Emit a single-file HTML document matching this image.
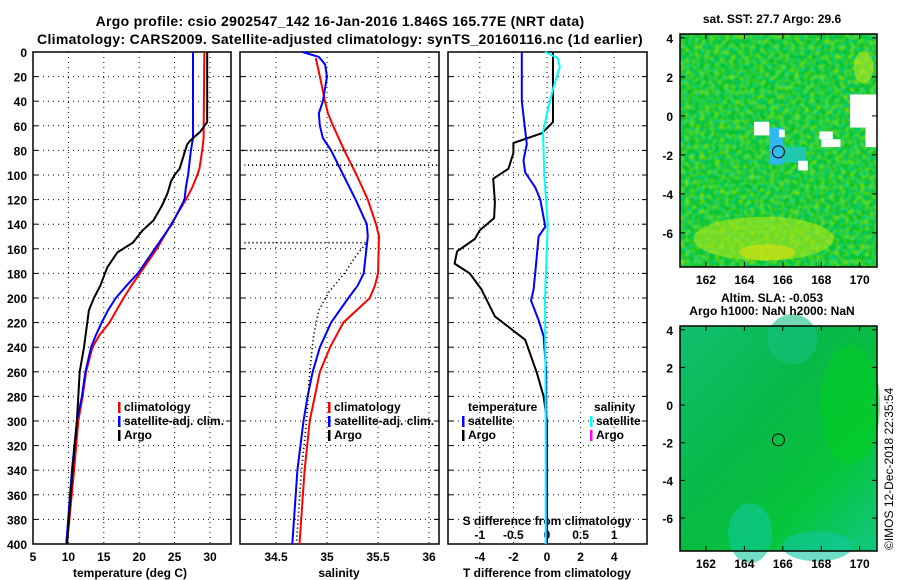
<!DOCTYPE html>
<html><head><meta charset="utf-8"><style>
html,body{margin:0;padding:0;background:#fff;}
svg{display:block;font-family:"Liberation Sans",Arial,sans-serif;font-weight:bold;}
</style></head><body>
<svg id="c" width="900" height="580" viewBox="0 0 900 580">
<defs>
<linearGradient id="sla" x1="0" y1="0" x2="1" y2="1">
<stop offset="0" stop-color="#10c070"/><stop offset="0.4" stop-color="#08b848"/><stop offset="0.7" stop-color="#06c43a"/><stop offset="1" stop-color="#10c880"/>
</linearGradient>
<filter id="noise" x="0" y="0" width="1" height="1">
<feTurbulence type="fractalNoise" baseFrequency="0.2" numOctaves="1" seed="3" result="t"/>
<feColorMatrix in="t" type="matrix" values="0 0 0 0 0.45  0 0 0 0 0.85  0 0 0 0 0  0 0 0 1.6 -0.6" result="n"/>
<feComposite in="n" in2="SourceGraphic" operator="in"/>
</filter>
<filter id="noise2" x="0" y="0" width="1" height="1">
<feTurbulence type="fractalNoise" baseFrequency="0.25" numOctaves="1" seed="11" result="t"/>
<feColorMatrix in="t" type="matrix" values="0 0 0 0 0  0 0 0 0 0.65  0 0 0 0 0.4  0 0 0 1.6 -0.6" result="n"/>
<feComposite in="n" in2="SourceGraphic" operator="in"/>
</filter>
</defs>
<text x="340" y="26" font-size="14" letter-spacing="0.3" text-anchor="middle">Argo profile: csio 2902547_142 16-Jan-2016 1.846S 165.77E (NRT data)</text>
<text x="340" y="44" font-size="14" letter-spacing="0.3" text-anchor="middle">Climatology: CARS2009. Satellite-adjusted climatology: synTS_20160116.nc (1d earlier)</text>
<g id="g"></g>
<text transform="translate(893,550) rotate(-90)" font-size="12" font-weight="normal">©IMOS 12-Dec-2018 22:35:54</text>
</svg>
<script>
// depth axis data
const depthTicks=[0,20,40,60,80,100,120,140,160,180,200,220,240,260,280,300,320,340,360,380,400];
// temperature panel
const tempTicks=[5,10,15,20,25,30];
const argoTDepth=[0,57,65,72,75,80,95,100,105,115,125,137,145,155,163,175,190,200,210,240,260,280,300,340,370,400];
const argoT=[29.6,29.6,28.6,27.2,26.8,26.5,25.7,25.0,24.5,24.0,23.2,22.0,20.5,19.1,16.9,15.5,14.5,13.6,12.9,12.2,11.6,11.4,11.2,10.6,10.2,9.8];
const climDepth=[0,70,80,95,100,110,120,140,160,180,190,200,210,220,230,240,260,280,300,340,400];
const climT=[29.2,29.1,28.9,28.5,28.2,27.5,26.6,24.5,22.5,20.1,18.9,17.8,16.8,15.8,14.4,13.4,12.5,12.0,11.4,10.8,9.8];
const satT=[27.6,27.6,27.3,27.0,26.9,26.6,26.4,24.6,22.2,19.8,18.2,16.7,15.6,14.7,13.9,13.2,12.4,11.9,11.2,10.5,9.7];
// salinity panel
const salTicks=[34.5,35,35.5,36];
const climSDepth=[5,20,40,50,60,80,100,120,140,150,180,190,200,220,240,260,280,300,340,400];
const climS=[34.89,34.93,34.98,35.01,35.06,35.17,35.29,35.40,35.48,35.51,35.50,35.47,35.42,35.16,35.03,34.93,34.88,34.83,34.78,34.73];
const satSDepth=[0,4,10,20,40,50,60,70,80,100,120,140,150,180,190,200,220,240,260,280,300,340,400];
const satS=[34.76,34.92,34.98,35.00,34.96,34.92,34.93,34.96,35.04,35.16,35.28,35.39,35.40,35.36,35.30,35.21,35.04,34.93,34.86,34.81,34.77,34.71,34.66];
// Argo salinity: null separates disconnected segments
const argoSDepth=[80,80,null,92,92,null,155,155,165,180,195,210,230,260,300,340,400];
const argoS=[34.17,36.08,null,36.08,34.19,null,34.19,35.39,35.29,35.17,35.02,34.92,34.87,34.83,34.80,34.75,34.70];
// difference panel
const dTTicks=[-4,-2,0,2,4];
const dSTicks=[-1,-0.5,0,0.5,1];
const dSTickLabels=["-1","-0.5","0","0.5","1"];
const argoDTDepth=[0,45,57,66,74,82,95,103,122,135,145,152,162,172,180,193,215,234,261,280,300,400];
const argoDT=[0.36,0.36,0.36,-0.3,-2.0,-2.0,-2.3,-3.2,-3.1,-3.15,-4.0,-4.3,-5.35,-5.5,-4.6,-3.9,-3.1,-1.3,-0.6,-0.2,0,0];
const satDTDepth=[0,40,75,88,98,110,120,142,150,165,180,193,202,218,231,260,400];
const satDT=[-1.5,-1.5,-1.2,-1.4,-1.3,-0.7,-0.4,-0.1,-0.5,-0.6,-0.7,-0.8,-0.95,-0.5,-0.2,-0.05,-0.05];
const satDSDepth=[0,5,12,30,50,65,100,140,200,300,400];
const satDS=[-0.03,0.16,0.19,0.09,0.0,-0.06,-0.04,0.01,-0.03,-0.02,-0.02];
// maps
const lonTicks=[162,164,166,168,170];
const latTicks=[4,2,0,-2,-4,-6];
const argoLon=165.77, argoLat=-1.846;

const NS='http://www.w3.org/2000/svg';
const G=document.getElementById('g');
function mk(t,a,p){const e=document.createElementNS(NS,t);for(const k in a)e.setAttribute(k,a[k]);(p||G).appendChild(e);return e;}
const yTop=52,yBot=544;
const yD=d=>yTop+(yBot-yTop)*d/400;
function panel(name){
  const g=mk('g',{});
  
  
  return g;
}
function grid(g,x0,x1,xs){
  depthTicks.slice(1,-1).forEach(d=>{const l=mk('line',{x1:x0,x2:x1,y1:yD(d),y2:yD(d),stroke:'#000','stroke-width':1,'stroke-dasharray':'1 4'},g);
  });
  xs.forEach(x=>{const l=mk('line',{x1:x,x2:x,y1:yTop,y2:yBot,stroke:'#000','stroke-width':1,'stroke-dasharray':'1 4'},g);
  });
  depthTicks.forEach(d=>{mk('line',{x1:x0,x2:x0+5,y1:yD(d),y2:yD(d),stroke:'#000'},g);mk('line',{x1:x1-5,x2:x1,y1:yD(d),y2:yD(d),stroke:'#000'},g);});
  const r=mk('rect',{x:x0,y:yTop,width:x1-x0,height:yBot-yTop,fill:'none',stroke:'#000','stroke-width':1.5},g);
  
}
function line(g,xs,ds,fx,col,w,name,dash){
  let segs=[[]];
  xs.forEach((v,i)=>{ if(v===null||ds[i]===null){segs.push([]);} else segs[segs.length-1].push(fx(v).toFixed(1)+','+yD(ds[i]).toFixed(1)); });
  segs.filter(s=>s.length>1).forEach(s=>{
    const p=mk('polyline',{points:s.join(' '),fill:'none',stroke:col,'stroke-width':w,'stroke-linejoin':'round'},g);
    if(dash)p.setAttribute('stroke-dasharray',dash);
    
    
  });
}
function txt(g,x,y,s,anchor,size,name){
  const t=mk('text',{x:x,y:y,'font-size':size||12,'text-anchor':anchor||'start'},g);t.textContent=s;
  
  return t;
}
function legend(g,x,y,col,label){
  const r=mk('rect',{x:x,y:y-9,width:2.5,height:11,fill:col},g);
  
  txt(g,x+6,y,label,'start',12,'legend-entry');
}
// Panel 1 temperature
const tx=v=>33+(v-5)*7.08;
let g1=panel('temperature-panel');
grid(g1,33,231,tempTicks.slice(1).map(tx));
depthTicks.forEach(d=>txt(g1,27,yD(d)+5,String(d),'end',12,'depth-tick-label'));
tempTicks.forEach(t=>txt(g1,tx(t),561,String(t),'middle',12,'temperature-tick-label'));
txt(g1,130,577,'temperature (deg C)','middle',12,'x-axis-title');
line(g1,climT,climDepth,tx,'#f00',2,'climatology-temperature-line');
line(g1,satT,climDepth,tx,'#00f',2,'satellite-temperature-line');
line(g1,argoT,argoTDepth,tx,'#000',2,'argo-temperature-line');
legend(g1,118,411,'#f00','climatology');legend(g1,118,425,'#00f','satellite-adj. clim.');legend(g1,118,439,'#000','Argo');
// Panel 2 salinity
const sx=v=>240+(v-34.147)*102;
let g2=panel('salinity-panel');
grid(g2,240,439,salTicks.map(sx));
salTicks.forEach(t=>txt(g2,sx(t),561,String(t),'middle',12,'salinity-tick-label'));
txt(g2,339,577,'salinity','middle',12,'x-axis-title');
line(g2,climS,climSDepth,sx,'#f00',2,'climatology-salinity-line');
line(g2,satS,satSDepth,sx,'#00f',2,'satellite-salinity-line');
line(g2,argoS,argoSDepth,sx,'#000',1.6,'argo-salinity-line','1.2 2.8');
legend(g2,328,411,'#f00','climatology');legend(g2,328,425,'#00f','satellite-adj. clim.');legend(g2,328,439,'#000','Argo');
// Panel 3 difference
const dx=v=>547+v*16.8, dsx=v=>547+v*67.2;
let g3=panel('difference-panel');
grid(g3,448,647,dTTicks.map(dx));
dTTicks.forEach(t=>txt(g3,dx(t),561,String(t),'middle',12,'t-difference-tick-label'));
dSTicks.forEach((t,i)=>txt(g3,dsx(t),539,dSTickLabels[i],'middle',12,'s-difference-tick-label'));
txt(g3,547,525,'S difference from climatology','middle',12,'s-axis-title');
txt(g3,547,577,'T difference from climatology','middle',12,'x-axis-title');
line(g3,argoDT,argoDTDepth,dx,'#000',2,'argo-t-difference-line');
line(g3,satDT,satDTDepth,dx,'#00f',2,'satellite-t-difference-line');
line(g3,satDS,satDSDepth,dsx,'#0ff',2,'satellite-s-difference-line');
txt(g3,468,411,'temperature','start',12,'legend-title');
legend(g3,462,425,'#00f','satellite');legend(g3,462,439,'#000','Argo');
txt(g3,594,411,'salinity','start',12,'legend-title');
legend(g3,590,425,'#0ff','satellite');legend(g3,590,439,'#f0f','Argo');
// Maps
const mX0=680,mX1=877,lon0=160.65,lon1=170.9;
const mx=l=>mX0+(l-lon0)*(mX1-mX0)/(lon1-lon0);
function map(y0,y1,name,title,draw){
  const lat0=4.2,lat1=-7.75;
  const my=l=>y0+(l-lat0)*(y1-y0)/(lat1-lat0);
  const g=mk('g',{});
  
  draw(g,my);
  const r=mk('rect',{x:mX0,y:y0,width:mX1-mX0,height:y1-y0,fill:'none',stroke:'#000','stroke-width':1.5},g);
  
  lonTicks.forEach(l=>{mk('line',{x1:mx(l),x2:mx(l),y1:y1,y2:y1-5,stroke:'#000'},g);mk('line',{x1:mx(l),x2:mx(l),y1:y0,y2:y0+5,stroke:'#000'},g);
    txt(g,mx(l),y1+17,String(l),'middle',12,'longitude-tick-label');});
  latTicks.forEach(l=>{mk('line',{x1:mX0,x2:mX0+5,y1:my(l),y2:my(l),stroke:'#000'},g);mk('line',{x1:mX1-5,x2:mX1,y1:my(l),y2:my(l),stroke:'#000'},g);
    txt(g,mX0-7,my(l)+5,String(l),'end',12,'latitude-tick-label');});
  title.forEach((s,i)=>txt(g,772,y0-(title.length-1-i)*13-11,s,'middle',12,'map-title'));
  const c=mk('circle',{cx:mx(argoLon),cy:my(argoLat),r:6,fill:'none',stroke:'#000','stroke-width':1},g);
  
}
map(34,267,'sst-map',['sat. SST: 27.7 Argo: 29.6'],(g,my)=>{
  const R=(a,b,c,d,f)=>mk('rect',{x:mx(a),y:my(b),width:mx(c)-mx(a),height:my(d)-my(b),fill:f},g);
  R(lon0,4.2,lon1,-7.75,'#0cc22a');
  R(lon0,4.2,lon1,-7.75,'#fff').setAttribute('filter','url(#noise)');
  R(lon0,4.2,lon1,-7.75,'#fff').setAttribute('filter','url(#noise2)');
  mk('ellipse',{cx:mx(165),cy:my(-6.3),rx:70,ry:22,fill:'#b0e818',opacity:0.6},g);
  mk('ellipse',{cx:mx(165.2),cy:my(-7),rx:28,ry:8,fill:'#e0e010',opacity:0.6},g);
  mk('ellipse',{cx:mx(170.2),cy:my(2.5),rx:10,ry:16,fill:'#c0e820',opacity:0.6},g);
  R(165.3,-0.6,166.0,-2.5,'#30b8f0');
  R(166.0,-1.6,167.2,-2.4,'#20c8b0');
  R(164.5,-0.3,165.3,-1.0,'#fff');
  R(165.8,-0.7,166.1,-1.1,'#fff');
  R(166.8,-2.3,167.3,-2.8,'#fff');
  R(168.0,-1.2,169.0,-1.6,'#fff');
  R(169.5,1.1,lon1,-0.6,'#fff');
  R(167.9,-0.8,168.6,-1.2,'#fff');
  R(170.3,-0.6,lon1,-1.6,'#fff');
});
map(326,551,'sla-map',['Altim. SLA: -0.053','Argo h1000: NaN h2000: NaN'],(g,my)=>{
  mk('rect',{x:mX0,y:326,width:mX1-mX0,height:225,fill:'url(#sla)'},g);
  mk('ellipse',{cx:mx(166.5),cy:my(3.5),rx:25,ry:25,fill:'#18c080',opacity:0.6},g);
  mk('ellipse',{cx:mx(169.5),cy:my(0),rx:30,ry:60,fill:'#00d020',opacity:0.5},g);
  mk('ellipse',{cx:mx(164.3),cy:my(-6.8),rx:22,ry:30,fill:'#10c8a0',opacity:0.6},g);
  mk('ellipse',{cx:mx(167.8),cy:my(-7.5),rx:35,ry:15,fill:'#10c8a0',opacity:0.6},g);
});
</script>
</body></html>
